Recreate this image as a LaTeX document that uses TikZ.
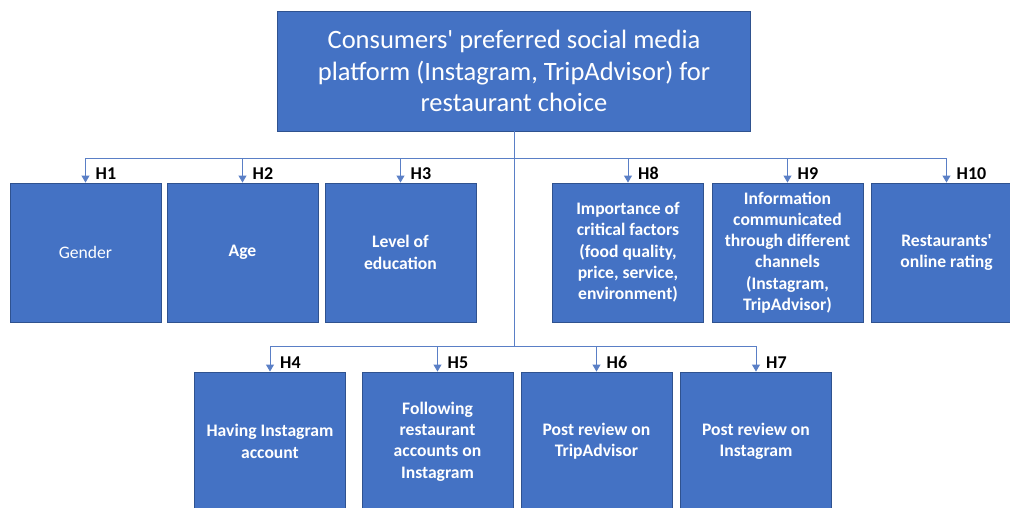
\documentclass[tikz,border=0pt]{standalone}
\usepackage{fontspec}
\setmainfont{Carlito}[Ligatures=TeXOff]
\usetikzlibrary{arrows.meta}
\definecolor{boxfill}{HTML}{4472C4}
\definecolor{boxline}{HTML}{2F528F}
\definecolor{wire}{HTML}{5A7FC6}
\begin{document}
\begin{tikzpicture}[x=1pt,y=-1pt,
  box/.style={draw=boxline,line width=0.9pt,fill=boxfill,text=white,
    minimum width=151pt,minimum height=139pt,inner sep=0pt,align=center,
    font=\fontsize{17.6}{21.3}\selectfont\bfseries},
  topbox/.style={draw=boxline,line width=0.9pt,fill=boxfill,text=white,
    minimum width=473pt,minimum height=120pt,inner sep=0pt,align=center,
    font=\fontsize{26.5}{31.7}\selectfont},
  wirestyle/.style={draw=wire,line width=1pt},
  arr/.style={wirestyle,-{Triangle[length=7pt,width=8pt]}},
  hyp/.style={anchor=base west,inner sep=0pt,font=\fontsize{18}{20}\selectfont\bfseries}]
\useasboundingbox (0,0) rectangle (1010,507);
\clip (0,0) rectangle (1010,507);

% central construct
\node[topbox] (top) at (514,71) {Consumers' preferred social media\\platform (Instagram, TripAdvisor) for\\restaurant choice};

% first row of constructs
\node[box,font=\fontsize{17.6}{21.3}\selectfont] (b1) at (85.5,252.5) {Gender};
\node[box] (b2) at (242.5,252.5) {Age};
\node[box] (b3) at (400.5,252.5) {Level of\\education};
\node[box] (b8) at (628,252.5) {Importance of\\critical factors\\(food quality,\\price, service,\\environment)};
\node[box] (b9) at (787.5,252.5) {Information\\communicated\\through different\\channels\\(Instagram,\\TripAdvisor)};
\node[box] (b10) at (946.5,252.5) {Restaurants'\\online rating};

% second row of constructs
\node[box] (b4) at (270,441.5) {Having Instagram\\account};
\node[box] (b5) at (437.5,441.5) {Following\\restaurant\\accounts on\\Instagram};
\node[box] (b6) at (596.5,441.5) {Post review on\\TripAdvisor};
\node[box] (b7) at (756,441.5) {Post review on\\Instagram};

% bus lines
\coordinate (busA) at (514,158);
\coordinate (busB) at (514,346);
\draw[wirestyle] (top.south) -- (busB);
\draw[wirestyle] (busA -| b1.north) -- (busA -| b10.north);
\draw[wirestyle] (busB -| b4.north) -- (busB -| b7.north);

% hypothesis arrows
\foreach \n/\h in {b1/H1,b2/H2,b3/H3,b8/H8,b9/H9,b10/H10}{
  \draw[arr] (busA -| \n.north) -- (\n.north);
  \node[hyp] at ([xshift=10pt,yshift=3pt]\n.north) {\h};
}
\foreach \n/\h in {b4/H4,b5/H5,b6/H6,b7/H7}{
  \draw[arr] (busB -| \n.north) -- (\n.north);
  \node[hyp] at ([xshift=10pt,yshift=3pt]\n.north) {\h};
}
\end{tikzpicture}
\end{document}
